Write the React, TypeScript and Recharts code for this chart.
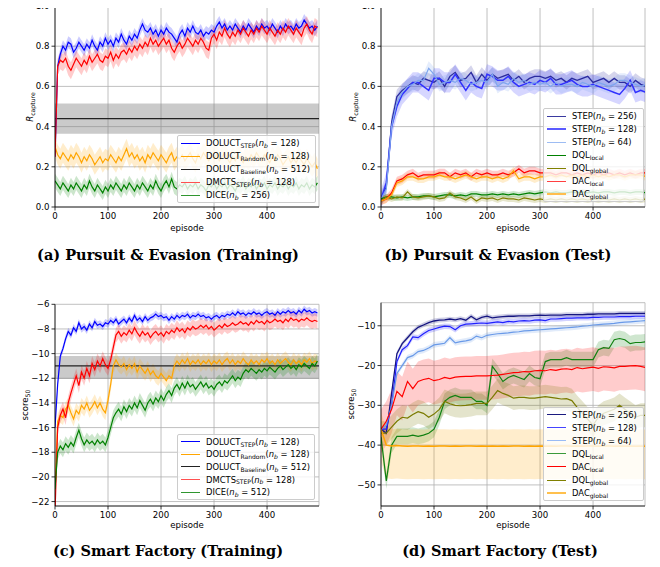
import React from 'react';
import { ComposedChart, Line, Area, XAxis, YAxis, CartesianGrid, ReferenceLine, ReferenceArea } from 'recharts';

const FONT = '"DejaVu Sans", sans-serif';
const TICK = { fontSize: 8.6, fill: '#000', fontFamily: FONT };

// x grids: training curves every 5 episodes, test curves every 10
const trainEpisodes = Array.from({ length: 100 }, (_, i) => i * 5);
const testEpisodes = Array.from({ length: 51 }, (_, i) => i * 10);

// (a) Pursuit & Evasion, training
const peTrainStep = [
  0.25, 0.70, 0.76, 0.80, 0.78, 0.82, 0.81, 0.77, 0.79, 0.82,
  0.80, 0.78, 0.81, 0.79, 0.83, 0.80, 0.78, 0.82, 0.80, 0.84,
  0.81, 0.83, 0.80, 0.84, 0.82, 0.86, 0.83, 0.81, 0.85, 0.83,
  0.86, 0.84, 0.88, 0.91, 0.88, 0.87, 0.89, 0.86, 0.88, 0.85,
  0.88, 0.86, 0.89, 0.87, 0.86, 0.84, 0.82, 0.86, 0.88, 0.85,
  0.89, 0.87, 0.90, 0.87, 0.86, 0.88, 0.85, 0.87, 0.86, 0.88,
  0.87, 0.90, 0.92, 0.89, 0.91, 0.88, 0.90, 0.88, 0.91, 0.89,
  0.87, 0.90, 0.88, 0.91, 0.89, 0.87, 0.90, 0.88, 0.91, 0.89,
  0.90, 0.88, 0.91, 0.89, 0.87, 0.90, 0.88, 0.91, 0.89, 0.90,
  0.88, 0.91, 0.89, 0.90, 0.93, 0.91, 0.89, 0.90, 0.88, 0.90,
];
const peTrainRandom = [
  0.30, 0.26, 0.24, 0.27, 0.25, 0.23, 0.26, 0.24, 0.27, 0.25,
  0.22, 0.25, 0.23, 0.26, 0.24, 0.21, 0.23, 0.25, 0.22, 0.24,
  0.23, 0.26, 0.24, 0.22, 0.25, 0.23, 0.26, 0.29, 0.25, 0.27,
  0.24, 0.26, 0.23, 0.25, 0.22, 0.26, 0.24, 0.27, 0.25, 0.23,
  0.26, 0.24, 0.22, 0.25, 0.27, 0.23, 0.25, 0.24, 0.26, 0.23,
  0.25, 0.27, 0.24, 0.22, 0.26, 0.24, 0.27, 0.25, 0.23, 0.26,
  0.24, 0.26, 0.23, 0.25, 0.27, 0.24, 0.22, 0.25, 0.23, 0.26,
  0.24, 0.22, 0.25, 0.23, 0.26, 0.24, 0.27, 0.25, 0.23, 0.26,
  0.24, 0.22, 0.25, 0.23, 0.26, 0.24, 0.21, 0.23, 0.25, 0.22,
  0.24, 0.22, 0.25, 0.23, 0.21, 0.24, 0.22, 0.20, 0.22, 0.19,
];
const peTrainMcts = [
  0.25, 0.70, 0.73, 0.72, 0.74, 0.70, 0.68, 0.71, 0.74, 0.72,
  0.70, 0.73, 0.71, 0.75, 0.72, 0.74, 0.76, 0.73, 0.72, 0.75,
  0.74, 0.77, 0.73, 0.76, 0.74, 0.77, 0.78, 0.76, 0.79, 0.77,
  0.80, 0.78, 0.81, 0.79, 0.82, 0.80, 0.84, 0.81, 0.83, 0.80,
  0.82, 0.84, 0.81, 0.83, 0.79, 0.77, 0.80, 0.82, 0.79, 0.81,
  0.84, 0.82, 0.80, 0.83, 0.81, 0.84, 0.82, 0.79, 0.78, 0.84,
  0.86, 0.83, 0.87, 0.85, 0.89, 0.86, 0.84, 0.87, 0.85, 0.88,
  0.86, 0.89, 0.87, 0.85, 0.88, 0.86, 0.89, 0.87, 0.90, 0.88,
  0.86, 0.89, 0.87, 0.85, 0.88, 0.86, 0.89, 0.87, 0.90, 0.88,
  0.86, 0.89, 0.87, 0.85, 0.89, 0.91, 0.88, 0.86, 0.90, 0.89,
];
const peTrainDice = [
  0.13, 0.11, 0.09, 0.12, 0.10, 0.08, 0.11, 0.09, 0.12, 0.10,
  0.08, 0.11, 0.09, 0.13, 0.10, 0.08, 0.11, 0.09, 0.07, 0.10,
  0.08, 0.11, 0.09, 0.12, 0.10, 0.08, 0.11, 0.09, 0.12, 0.10,
  0.08, 0.11, 0.09, 0.12, 0.10, 0.08, 0.11, 0.09, 0.13, 0.10,
  0.08, 0.11, 0.13, 0.10, 0.14, 0.10, 0.09, 0.11, 0.10, 0.12,
  0.09, 0.11, 0.10, 0.12, 0.09, 0.11, 0.10, 0.08, 0.11, 0.10,
  0.12, 0.09, 0.11, 0.10, 0.12, 0.09, 0.11, 0.10, 0.08, 0.11,
  0.10, 0.12, 0.09, 0.11, 0.10, 0.12, 0.09, 0.11, 0.10, 0.12,
  0.09, 0.11, 0.10, 0.12, 0.09, 0.11, 0.10, 0.12, 0.09, 0.11,
  0.10, 0.12, 0.09, 0.11, 0.10, 0.12, 0.09, 0.11, 0.10, 0.12,
];
const peBaseline = { mean: 0.44, low: 0.365, high: 0.515 };

// (b) Pursuit & Evasion, test
const peTestStep256 = [
  0.04, 0.10, 0.42, 0.55, 0.58, 0.60, 0.62, 0.61, 0.64, 0.63,
  0.62, 0.64, 0.60, 0.65, 0.67, 0.63, 0.64, 0.67, 0.62, 0.66,
  0.63, 0.66, 0.64, 0.65, 0.66, 0.63, 0.65, 0.62, 0.64, 0.65,
  0.65, 0.64, 0.65, 0.63, 0.64, 0.62, 0.64, 0.63, 0.64, 0.65,
  0.62, 0.63, 0.64, 0.62, 0.64, 0.62, 0.62, 0.60, 0.63, 0.61,
  0.60,
];
const peTestStep128 = [
  0.04, 0.12, 0.40, 0.50, 0.56, 0.59, 0.62, 0.62, 0.60, 0.58,
  0.64, 0.64, 0.62, 0.62, 0.66, 0.62, 0.58, 0.62, 0.60, 0.59,
  0.66, 0.65, 0.63, 0.63, 0.65, 0.62, 0.60, 0.61, 0.62, 0.61,
  0.63, 0.62, 0.64, 0.61, 0.61, 0.62, 0.63, 0.61, 0.60, 0.60,
  0.61, 0.60, 0.59, 0.58, 0.57, 0.56, 0.59, 0.63, 0.57, 0.58,
  0.57,
];
const peTestStep64 = [
  0.04, 0.09, 0.40, 0.52, 0.57, 0.60, 0.61, 0.63, 0.63, 0.69,
  0.66, 0.61, 0.62, 0.63, 0.62, 0.64, 0.63, 0.61, 0.62, 0.63,
  0.62, 0.66, 0.60, 0.62, 0.61, 0.64, 0.62, 0.63, 0.61, 0.62,
  0.61, 0.62, 0.60, 0.62, 0.60, 0.61, 0.61, 0.60, 0.62, 0.61,
  0.60, 0.62, 0.61, 0.60, 0.61, 0.63, 0.63, 0.62, 0.61, 0.60,
  0.61,
];
const peTestDqlLocal = [
  0.04, 0.05, 0.05, 0.045, 0.05, 0.045, 0.05, 0.05, 0.055, 0.055,
  0.05, 0.055, 0.06, 0.06, 0.055, 0.06, 0.055, 0.065, 0.065, 0.06,
  0.06, 0.065, 0.06, 0.065, 0.06, 0.065, 0.06, 0.065, 0.07, 0.065,
  0.07, 0.075, 0.07, 0.075, 0.07, 0.07, 0.075, 0.07, 0.075, 0.07,
  0.075, 0.07, 0.075, 0.075, 0.07, 0.075, 0.075, 0.07, 0.075, 0.075,
  0.07,
];
const peTestDqlGlobal = [
  0.03, 0.05, 0.04, 0.05, 0.045, 0.075, 0.05, 0.045, 0.05, 0.055,
  0.05, 0.04, 0.045, 0.07, 0.05, 0.045, 0.035, 0.05, 0.03, 0.045,
  0.04, 0.045, 0.035, 0.045, 0.04, 0.04, 0.035, 0.045, 0.04, 0.035,
  0.04, 0.035, 0.04, 0.035, 0.04, 0.035, 0.04, 0.035, 0.04, 0.035,
  0.04, 0.035, 0.04, 0.035, 0.04, 0.035, 0.04, 0.035, 0.04, 0.035,
  0.04,
];
const peTestDacLocal = [
  0.03, 0.04, 0.07, 0.13, 0.14, 0.16, 0.17, 0.15, 0.16, 0.16,
  0.16, 0.17, 0.17, 0.15, 0.17, 0.16, 0.17, 0.15, 0.17, 0.16,
  0.17, 0.16, 0.16, 0.17, 0.16, 0.17, 0.19, 0.17, 0.18, 0.18,
  0.17, 0.17, 0.17, 0.16, 0.17, 0.17, 0.16, 0.17, 0.16, 0.17,
  0.16, 0.17, 0.16, 0.17, 0.16, 0.17, 0.16, 0.17, 0.16, 0.17,
  0.17,
];
const peTestDacGlobal = [
  0.03, 0.04, 0.06, 0.12, 0.13, 0.15, 0.15, 0.14, 0.14, 0.15,
  0.15, 0.16, 0.15, 0.15, 0.14, 0.15, 0.16, 0.15, 0.14, 0.15,
  0.15, 0.14, 0.15, 0.14, 0.15, 0.18, 0.14, 0.15, 0.15, 0.14,
  0.15, 0.15, 0.16, 0.15, 0.16, 0.15, 0.16, 0.15, 0.16, 0.15,
  0.16, 0.15, 0.16, 0.15, 0.16, 0.16, 0.15, 0.16, 0.16, 0.16,
  0.15,
];

// (c) Smart Factory, training
const sfTrainStep = [
  -16, -12.5, -10.2, -9.6, -8.8, -8.2, -8.5, -7.9, -8.2, -7.5,
  -8.0, -7.8, -8.1, -7.6, -7.9, -7.4, -7.7, -7.6, -7.8, -7.5,
  -7.6, -7.3, -7.5, -7.2, -7.6, -7.4, -7.2, -7.5, -7.1, -7.4,
  -6.9, -7.3, -7.1, -7.4, -7.0, -7.3, -7.1, -7.0, -6.8, -7.0,
  -6.9, -7.1, -7.0, -7.3, -7.0, -7.2, -6.9, -7.1, -6.9, -7.0,
  -6.8, -7.1, -6.9, -7.0, -6.8, -7.0, -6.9, -7.1, -7.0, -7.2,
  -7.0, -6.9, -7.1, -6.9, -7.0, -6.8, -6.9, -6.7, -6.9, -6.6,
  -6.8, -6.7, -6.9, -6.7, -6.8, -6.6, -6.8, -6.7, -6.9, -6.7,
  -6.6, -6.8, -6.7, -6.9, -6.6, -6.8, -6.6, -6.7, -6.5, -6.7,
  -6.6, -6.8, -6.5, -6.7, -6.4, -6.6, -6.5, -6.7, -6.6, -6.7,
];
const sfTrainRandom = [
  -21, -15.5, -15.0, -15.2, -14.5, -14.2, -14.8, -15.3, -14.6, -14.9,
  -14.2, -14.5, -14.0, -14.6, -14.3, -13.9, -14.4, -14.0, -14.5, -14.8,
  -13.8, -12.5, -11.0, -10.5, -10.9, -11.1, -10.8, -11.3, -10.9, -11.2,
  -10.8, -11.5, -11.0, -11.3, -11.6, -11.2, -11.7, -11.4, -11.8, -12.0,
  -11.6, -11.9, -12.2, -11.8, -12.0, -11.0, -10.6, -10.9, -10.5, -10.8,
  -10.4, -10.9, -10.6, -10.8, -10.5, -10.9, -10.6, -10.8, -10.5, -10.9,
  -10.6, -10.8, -10.5, -10.9, -10.6, -10.4, -10.8, -10.5, -10.9, -10.6,
  -10.8, -10.4, -10.7, -10.9, -10.5, -10.8, -10.6, -10.9, -10.5, -10.7,
  -10.4, -10.8, -10.6, -10.9, -10.5, -10.8, -10.6, -10.4, -10.7, -10.9,
  -10.5, -10.8, -10.6, -10.9, -10.5, -10.7, -10.4, -10.8, -10.6, -10.7,
];
const sfTrainMcts = [
  -23, -16, -15, -14.5, -15.2, -14.0, -13.2, -12.5, -11.8, -12.6,
  -11.5, -12.0, -11.2, -11.8, -10.8, -11.3, -10.6, -11.0, -10.4, -10.9,
  -11.2, -10.5, -9.5, -8.5, -8.2, -8.6, -8.3, -8.5, -8.1, -8.4,
  -7.9, -8.3, -8.6, -8.2, -8.5, -8.3, -8.7, -8.4, -8.2, -8.5,
  -8.3, -8.6, -8.2, -8.4, -8.1, -8.3, -7.9, -8.2, -8.0, -8.3,
  -7.9, -8.1, -7.8, -8.0, -7.9, -7.7, -7.9, -7.7, -8.0, -7.8,
  -8.1, -7.9, -7.7, -7.9, -7.6, -7.8, -7.7, -7.5, -7.7, -7.6,
  -7.4, -7.6, -7.5, -7.7, -7.4, -7.6, -7.3, -7.5, -7.4, -7.6,
  -7.3, -7.5, -7.4, -7.2, -7.4, -7.3, -7.5, -7.2, -7.4, -7.1,
  -7.3, -7.2, -7.4, -7.2, -7.3, -7.1, -7.3, -7.4, -7.3, -7.4,
];
const sfTrainDice = [
  -21, -18, -17.5, -17.8, -17.3, -17.6, -17.2, -17.5, -16.8, -16.2,
  -16.9, -17.4, -17.0, -17.3, -17.1, -17.4, -17.0, -17.3, -17.1, -17.4,
  -16.8, -16.0, -15.2, -14.8, -14.5, -14.9, -14.3, -14.7, -14.2, -14.5,
  -14.0, -14.4, -13.8, -14.2, -14.6, -14.0, -13.7, -14.1, -13.6, -13.9,
  -13.4, -13.8, -13.3, -13.0, -13.4, -12.8, -12.5, -12.9, -12.4, -12.8,
  -12.3, -12.7, -12.5, -12.9, -12.6, -12.3, -12.7, -12.4, -12.8, -12.6,
  -12.9, -12.5, -12.3, -12.6, -12.2, -12.4, -12.1, -11.8, -12.2, -11.9,
  -12.1, -11.6, -11.3, -11.5, -11.2, -11.4, -11.6, -11.3, -11.5, -11.2,
  -11.4, -11.1, -11.3, -11.5, -11.2, -11.0, -11.3, -11.1, -10.9, -11.2,
  -11.0, -11.3, -10.9, -11.1, -10.8, -11.0, -11.2, -10.8, -11.0, -10.6,
];
const sfBaseline = { mean: -11.0, low: -12.05, high: -10.2 };

// (d) Smart Factory, test
const sfTestStep256 = [
  -36, -37, -27, -17, -14.5, -13, -11.5, -10.4, -9.8, -9.2,
  -8.8, -8.6, -8.5, -8.3, -8.5, -8.2, -8.6, -7.6, -8.5, -7.9,
  -7.6, -8.0, -7.8, -7.7, -7.6, -7.6, -7.5, -7.5, -7.5, -7.4,
  -7.3, -7.4, -7.3, -7.3, -7.3, -7.2, -7.2, -7.2, -7.2, -7.1,
  -7.1, -7.0, -7.0, -7.0, -7.0, -6.9, -6.9, -6.9, -6.9, -6.9,
  -6.9,
];
const sfTestStep128 = [
  -36, -36, -30, -19, -16, -15, -12.8, -13, -12, -11.2,
  -10.8, -10.4, -10.1, -10.2, -11, -10, -9.6, -9.5, -9.4, -9.3,
  -9.4, -9.2, -9.0, -9.2, -8.9, -9.0, -8.8, -8.7, -8.8, -8.6,
  -8.5, -8.7, -8.3, -8.3, -8.2, -8.1, -8.1, -8.0, -8.0, -8.0,
  -7.9, -7.9, -7.8, -7.8, -7.8, -7.7, -7.7, -7.7, -7.6, -7.6,
  -7.6,
];
const sfTestStep64 = [
  -36, -35, -30, -22, -20, -18, -17.5, -16.5, -16.2, -15.6,
  -14.8, -14.6, -14.4, -13.0, -14.3, -14, -13.8, -13.5, -12.6, -13,
  -12.4, -12.2, -12.0, -11.9, -11.8, -11.6, -11.5, -11.3, -11.2, -11.1,
  -11.0, -10.9, -10.8, -10.7, -10.6, -10.5, -10.4, -10.3, -10.1, -10.0,
  -9.8, -9.7, -9.6, -9.5, -9.4, -9.2, -9.1, -9.0, -8.9, -8.8,
  -8.7,
];
const sfTestDqlLocal = [
  -38, -49, -40, -37.8, -37.8, -37.8, -37.5, -37.8, -37.5, -37,
  -36, -33, -29, -28, -27.5, -28, -28, -28, -29, -29,
  -30, -20.2, -22, -24, -23, -22.5, -23, -23.5, -22, -23,
  -23.3, -19, -18.5, -18.5, -18.5, -18, -18.5, -18.5, -18.5, -18.5,
  -18.5, -16, -15.5, -15.7, -13.5, -13.2, -13.5, -14.5, -14.2, -14.2,
  -14,
];
const sfTestDacLocal = [
  -36, -34, -31, -26.5, -27.8, -24, -25.8, -24, -23.5, -23.2,
  -23.8, -23.5, -23, -23.3, -22.9, -22.8, -22.7, -22.7, -22.6, -22.6,
  -22.6, -22.5, -22.4, -22.2, -22, -21.8, -21.7, -21.5, -21.6, -21.3,
  -21.2, -21.3, -21.0, -21.2, -20.9, -20.8, -21.0, -20.5, -20.8, -20.6,
  -20.4, -20.7, -20.3, -20.4, -20.6, -20.2, -20.2, -20.1, -20.0, -20.2,
  -20.5,
];
const sfTestDqlGlobal = [
  -37, -37, -35.5, -34, -33, -33.2, -32.3, -31.6, -32, -33,
  -32.2, -31, -29, -29.6, -30, -30.1, -30, -29.8, -29.5, -29.5,
  -29.5, -28, -26.3, -27, -27.5, -28.2, -28, -28, -28.2, -28.2,
  -28, -27.8, -28, -28.2, -28.4, -28.3, -28.8, -30.5, -32, -33.5,
  -35, -33, -32, -31.5, -31, -30, -31, -32, -33, -32.5,
  -32.5,
];
const sfTestDacGlobal = [
  -36, -40, -40.2, -40.1, -40.2, -40.3, -40.2, -40.2, -40.3, -40.2,
  -40.3, -40.2, -40.2, -40.3, -40.2, -40.3, -40.2, -40.2, -40.3, -40.2,
  -40.3, -40.2, -40.3, -40.2, -40.3, -40.2, -40.2, -40.3, -40.2, -40.3,
  -40.2, -40.3, -40.2, -40.3, -40.2, -40.2, -40.3, -40.2, -40.3, -40.2,
  -40.2, -40.3, -40.2, -40.2, -40.3, -40.2, -40.3, -40.2, -40.3, -40.2,
  -40.3,
];

const xTicks = [0, 100, 200, 300, 400];
const peTicks = [0, 0.2, 0.4, 0.6, 0.8, 1.0];
const sfTrainTicks = [-22, -20, -18, -16, -14, -12, -10, -8, -6];
const sfTestTicks = [-50, -40, -30, -20, -10];

const minus = (v: number) => String(v).replace('-', '\u2212');

type Series = {
  key: string;
  values: number[];
  color: string;
  spread: [number, number]; // below, above the mean
  width?: number;
  opacity?: number;
  bandOpacity?: number;
};

const Sub = ({ children }: { children: React.ReactNode }) => (
  <span style={{ fontSize: '0.72em', position: 'relative', top: '0.3em' }}>{children}</span>
);
const nb = (v: string) => (
  <>
    (<i>n</i>
    <Sub>
      <i>b</i>
    </Sub>{' '}
    = {v})
  </>
);

function Panel(props: {
  left: number;
  top: number;
  width: number;
  height: number;
  marginTop: number;
  marginRight: number;
  yWidth: number;
  episodes: number[];
  series: Series[];
  yDomain: [number, number];
  yTicks: number[];
  yFormat: (v: number) => string;
  baseline?: { mean: number; low: number; high: number };
}) {
  const { series, baseline } = props;
  const rows = props.episodes.map((ep, i) => {
    const row: Record<string, any> = { ep };
    series.forEach((s) => {
      const v = s.values[i];
      row[s.key] = v;
      row[s.key + 'Band'] = [v - s.spread[0], v + s.spread[1]];
    });
    return row;
  });
  const axis = { stroke: '#000', strokeWidth: 0.8 };
  return (
    <div style={{ position: 'absolute', left: props.left, top: props.top }}>
      <ComposedChart
        width={props.width}
        height={props.height}
        data={rows}
        margin={{ top: props.marginTop, right: props.marginRight, bottom: 0, left: 0 }}
      >
        <CartesianGrid stroke="#b0b0b0" strokeWidth={0.8} />
        <XAxis
          dataKey="ep"
          type="number"
          domain={[0, 498]}
          ticks={xTicks}
          interval={0}
          allowDataOverflow
          height={30}
          tickSize={3.5}
          tickMargin={2}
          tick={TICK}
          axisLine={axis}
          tickLine={axis}
        />
        <YAxis
          type="number"
          domain={props.yDomain}
          ticks={props.yTicks}
          interval={0}
          allowDataOverflow
          width={props.yWidth}
          tickSize={3.5}
          tickMargin={2}
          tick={TICK}
          tickFormatter={props.yFormat}
          axisLine={axis}
          tickLine={axis}
        />
        <XAxis xAxisId="top" orientation="top" type="number" domain={[0, 498]} height={0} tick={false} tickLine={false} axisLine={axis} />
        <YAxis yAxisId="right" orientation="right" type="number" domain={props.yDomain} width={0} tick={false} tickLine={false} axisLine={axis} />
        {baseline && (
          <ReferenceArea y1={baseline.low} y2={baseline.high} fill="#808080" fillOpacity={0.42} stroke="none" ifOverflow="hidden" />
        )}
        {series.map((s) => (
          <Area
            key={s.key + 'Band'}
            dataKey={s.key + 'Band'}
            type="linear"
            stroke="none"
            fill={s.color}
            fillOpacity={s.bandOpacity ?? 0.2}
            dot={false}
            activeDot={false}
            isAnimationActive={false}
          />
        ))}
        {baseline && <ReferenceLine y={baseline.mean} stroke="#222" strokeWidth={1.2} />}
        {series.map((s) => (
          <Line
            key={s.key}
            dataKey={s.key}
            type="linear"
            stroke={s.color}
            strokeWidth={s.width ?? 1.2}
            strokeOpacity={s.opacity ?? 1}
            dot={false}
            activeDot={false}
            isAnimationActive={false}
          />
        ))}
      </ComposedChart>
    </div>
  );
}

type LegendItem = { color: string; width?: number; label: React.ReactNode };

function Legend(props: { left: number; top: number; width: number; padTop: number; rowHeight: number; items: LegendItem[] }) {
  return (
    <div
      style={{
        position: 'absolute',
        left: props.left,
        top: props.top,
        width: props.width,
        boxSizing: 'border-box',
        background: 'rgba(255,255,255,0.8)',
        border: '1px solid #cccccc',
        borderRadius: 2,
        padding: `${props.padTop}px 0 ${props.padTop}px 3px`,
        fontFamily: FONT,
        fontSize: 8.4,
        color: '#000',
      }}
    >
      {props.items.map((it, i) => (
        <div key={i} style={{ display: 'flex', alignItems: 'center', height: props.rowHeight, whiteSpace: 'nowrap' }}>
          <span
            style={{
              display: 'inline-block',
              width: 19,
              height: 0,
              borderTop: `${it.width ?? 1.5}px solid ${it.color}`,
              marginRight: 6,
            }}
          />
          <span>{it.label}</span>
        </div>
      ))}
    </div>
  );
}

const AxisText = ({ x, y, rotate, children }: { x: number; y: number; rotate?: boolean; children: React.ReactNode }) => (
  <div
    style={{
      position: 'absolute',
      left: x,
      top: y,
      transform: `translate(-50%, -50%)${rotate ? ' rotate(-90deg)' : ''}`,
      fontFamily: FONT,
      fontSize: 8.6,
      whiteSpace: 'nowrap',
      color: '#000',
    }}
  >
    {children}
  </div>
);

const Caption = ({ x, y, children }: { x: number; y: number; children: React.ReactNode }) => (
  <div
    style={{
      position: 'absolute',
      left: x,
      top: y,
      transform: 'translate(-50%, -50%)',
      fontFamily: '"DejaVu Serif", serif',
      fontWeight: 'bold',
      fontSize: 14.5,
      lineHeight: '16px',
      whiteSpace: 'nowrap',
      color: '#000',
    }}
  >
    {children}
  </div>
);

export default function App() {
  const peTrainSeries: Series[] = [
    { key: 'step', values: peTrainStep, color: '#0000ff', spread: [0.03, 0.03] },
    { key: 'random', values: peTrainRandom, color: '#ffa500', spread: [0.05, 0.05] },
    { key: 'mcts', values: peTrainMcts, color: '#ff0000', spread: [0.045, 0.04] },
    { key: 'dice', values: peTrainDice, color: '#008000', spread: [0.035, 0.035] },
  ];
  const peTestSeries: Series[] = [
    { key: 's256', values: peTestStep256, color: '#2b2b9e', spread: [0.035, 0.035], width: 1.3 },
    { key: 's128', values: peTestStep128, color: '#3030ff', spread: [0.05, 0.05], width: 1.5 },
    { key: 's64', values: peTestStep64, color: '#7ea6ee', spread: [0.035, 0.035] },
    { key: 'dqlL', values: peTestDqlLocal, color: '#008000', spread: [0.015, 0.015] },
    { key: 'dqlG', values: peTestDqlGlobal, color: '#808000', spread: [0.015, 0.015] },
    { key: 'dacL', values: peTestDacLocal, color: '#ff0000', spread: [0.02, 0.02] },
    { key: 'dacG', values: peTestDacGlobal, color: '#ffa500', spread: [0.02, 0.02] },
  ];
  const sfTrainSeries: Series[] = [
    { key: 'step', values: sfTrainStep, color: '#0000ff', spread: [0.3, 0.3] },
    { key: 'random', values: sfTrainRandom, color: '#ffa500', spread: [0.6, 0.6] },
    { key: 'mcts', values: sfTrainMcts, color: '#ff0000', spread: [0.6, 0.6] },
    { key: 'dice', values: sfTrainDice, color: '#008000', spread: [0.6, 0.6] },
  ];
  const sfTestSeries: Series[] = [
    { key: 's256', values: sfTestStep256, color: '#151580', spread: [0.6, 0.6], width: 1.3 },
    { key: 's128', values: sfTestStep128, color: '#2020ff', spread: [0.7, 0.7] },
    { key: 's64', values: sfTestStep64, color: '#6a9ae8', spread: [0.7, 0.7] },
    { key: 'dqlL', values: sfTestDqlLocal, color: '#108010', spread: [2, 2] },
    { key: 'dacL', values: sfTestDacLocal, color: '#ff0000', spread: [6, 5] },
    { key: 'dqlG', values: sfTestDqlGlobal, color: '#7a7a00', spread: [3, 3] },
    { key: 'dacG', values: sfTestDacGlobal, color: '#ffa500', spread: [8.3, 4.2], width: 1.5 },
  ];

  const trainLegend = (dice: string): LegendItem[] => [
    { color: '#0000ff', label: <>DOLUCT<Sub>STEP</Sub>{nb('128')}</> },
    { color: '#ffa500', label: <>DOLUCT<Sub>Random</Sub>{nb('128')}</> },
    { color: '#222222', label: <>DOLUCT<Sub>Baseline</Sub>{nb('512')}</> },
    { color: '#ff5050', label: <>DMCTS<Sub>STEP</Sub>{nb('128')}</> },
    { color: '#2f962f', label: <>DICE{nb(dice)}</> },
  ];

  return (
    <div style={{ position: 'relative', width: 660, height: 567, margin: -8, background: '#fff', overflow: 'hidden' }}>
      <Panel
        left={0}
        top={-10}
        width={330}
        height={247}
        marginTop={16}
        marginRight={11}
        yWidth={55}
        episodes={trainEpisodes}
        series={peTrainSeries}
        yDomain={[0, 1]}
        yTicks={peTicks}
        yFormat={(v) => v.toFixed(1)}
        baseline={peBaseline}
      />
      <Panel
        left={330}
        top={-10}
        width={330}
        height={247}
        marginTop={16}
        marginRight={15}
        yWidth={51}
        episodes={testEpisodes}
        series={peTestSeries}
        yDomain={[0, 1]}
        yTicks={peTicks}
        yFormat={(v) => v.toFixed(1)}
      />
      <Panel
        left={0}
        top={280}
        width={330}
        height={256}
        marginTop={24.3}
        marginRight={11}
        yWidth={55}
        episodes={trainEpisodes}
        series={sfTrainSeries}
        yDomain={[-22.36, -6]}
        yTicks={sfTrainTicks}
        yFormat={minus}
        baseline={sfBaseline}
      />
      <Panel
        left={330}
        top={280}
        width={330}
        height={256}
        marginTop={22.7}
        marginRight={15}
        yWidth={51}
        episodes={testEpisodes}
        series={sfTestSeries}
        yDomain={[-55.3, -4.2]}
        yTicks={sfTestTicks}
        yFormat={minus}
      />

      <Legend left={177} top={135} width={139} padTop={1} rowHeight={12.9} items={trainLegend('256')} />
      <Legend
        left={543}
        top={108}
        width={101}
        padTop={0.5}
        rowHeight={13}
        items={[
          { color: '#3a3aa0', label: <>STEP{nb('256')}</> },
          { color: '#5a5aff', width: 2, label: <>STEP{nb('128')}</> },
          { color: '#9dbcf3', label: <>STEP{nb('64')}</> },
          { color: '#008000', width: 1.2, label: <>DQL<Sub>local</Sub></> },
          { color: '#808000', width: 1.2, label: <>DQL<Sub>global</Sub></> },
          { color: '#ff4040', label: <>DAC<Sub>local</Sub></> },
          { color: '#ffbe4d', width: 2, label: <>DAC<Sub>global</Sub></> },
        ]}
      />
      <Legend left={177} top={434} width={138} padTop={0.5} rowHeight={12.6} items={trainLegend('512')} />
      <Legend
        left={543}
        top={406.5}
        width={101}
        padTop={0.5}
        rowHeight={13.1}
        items={[
          { color: '#1a1a80', label: <>STEP{nb('256')}</> },
          { color: '#4444ff', label: <>STEP{nb('128')}</> },
          { color: '#99bbf5', label: <>STEP{nb('64')}</> },
          { color: '#3a9a3a', label: <>DQL<Sub>local</Sub></> },
          { color: '#ff0000', label: <>DAC<Sub>local</Sub></> },
          { color: '#808000', label: <>DQL<Sub>global</Sub></> },
          { color: '#ffc04d', width: 2, label: <>DAC<Sub>global</Sub></> },
        ]}
      />

      <AxisText x={30} y={106.5} rotate>
        <i>R</i>
        <Sub>capture</Sub>
      </AxisText>
      <AxisText x={353} y={106.5} rotate>
        <i>R</i>
        <Sub>capture</Sub>
      </AxisText>
      <AxisText x={25} y={405} rotate>
        score<Sub>50</Sub>
      </AxisText>
      <AxisText x={351} y={404} rotate>
        score<Sub>50</Sub>
      </AxisText>
      <AxisText x={187} y={228}>episode</AxisText>
      <AxisText x={513} y={228}>episode</AxisText>
      <AxisText x={187} y={525}>episode</AxisText>
      <AxisText x={513} y={525}>episode</AxisText>

      <Caption x={168} y={255}>(a) Pursuit &amp; Evasion (Training)</Caption>
      <Caption x={498} y={255}>(b) Pursuit &amp; Evasion (Test)</Caption>
      <Caption x={168} y={551}>(c) Smart Factory (Training)</Caption>
      <Caption x={500} y={551}>(d) Smart Factory (Test)</Caption>
    </div>
  );
}
